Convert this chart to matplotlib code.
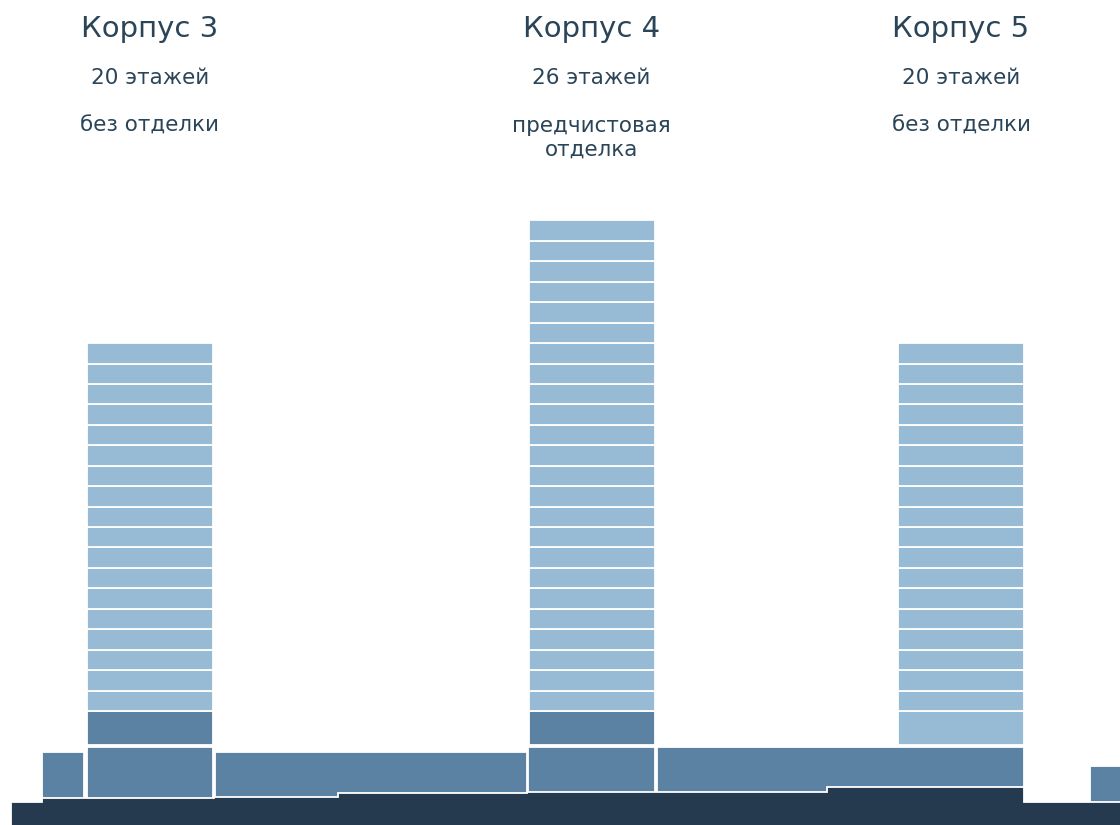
import matplotlib
matplotlib.use("Agg")
import matplotlib.pyplot as plt

# towers
towers = ["Корпус 3", "Корпус 4", "Корпус 5"]
storeys = ["20 этажей", "26 этажей", "20 этажей"]
finish = ["без отделки", "предчистовая\nотделка", "без отделки"]
tower_x = [150, 591.5, 961]
tower_w = 126
typical_floors = [18, 24, 18]
lobby_dark = [True, True, False]

floor_base = 114     # top of lobby level
floor_pitch = 20.44
lobby_base = 80

# podium blocks: left, right, top
podium_left = [42, 87, 215, 528, 657, 1090]
podium_right = [84, 213, 527, 655, 1024, 1125]
podium_top = [73, 78, 73, 78, 78, 59]

# ground profile (step edges and top levels)
ground_x = [11, 42, 214, 338, 527, 827, 1024, 1125]
ground_top = [23, 27, 28, 32, 33, 38, 23]

LIGHT = "#97bad5"
MID = "#5b82a3"
NAVY = "#25394f"
TEXT = "#2a4458"
FONT = ["DejaVu Sans"]

fig = plt.figure(figsize=(11.2, 8.25), dpi=100)
ax = fig.add_axes([0, 0, 1, 1])
ax.set_xlim(0, 1120)
ax.set_ylim(0, 825)
ax.axis("off")

# podium
for l, r, t in zip(podium_left, podium_right, podium_top):
    ax.bar(l, t + 5, width=r - l, bottom=-5, align="edge", color=MID,
           edgecolor="white", linewidth=1.3)

# ground
gx, gy = [ground_x[0]], [-5]
for i, top in enumerate(ground_top):
    gx += [ground_x[i], ground_x[i + 1]]
    gy += [top, top]
gx += [ground_x[-1]]
gy += [-5]
ax.fill(gx, gy, facecolor=NAVY, edgecolor="white", linewidth=1.3, zorder=3)

# towers
for i in range(len(towers)):
    cx = tower_x[i]
    ax.bar(cx, floor_base - lobby_base, width=tower_w, bottom=lobby_base,
           color=MID if lobby_dark[i] else LIGHT, edgecolor="white", linewidth=1.3)
    for k in range(typical_floors[i]):
        ax.bar(cx, floor_pitch, width=tower_w, bottom=floor_base + k * floor_pitch,
               color=LIGHT, edgecolor="white", linewidth=1.3)
    ax.text(cx, 825 - 37, towers[i], ha="center", va="baseline", fontsize=21,
            color=TEXT, family=FONT)
    ax.text(cx, 825 - 84, storeys[i], ha="center", va="baseline", fontsize=15.5,
            color=TEXT, family=FONT)
    for j, line in enumerate(finish[i].split("\n")):
        ax.text(cx, 825 - 132 - 24 * j, line, ha="center", va="baseline",
                fontsize=15.5, color=TEXT, family=FONT)

fig.savefig("out.png", dpi=100, facecolor="white")
